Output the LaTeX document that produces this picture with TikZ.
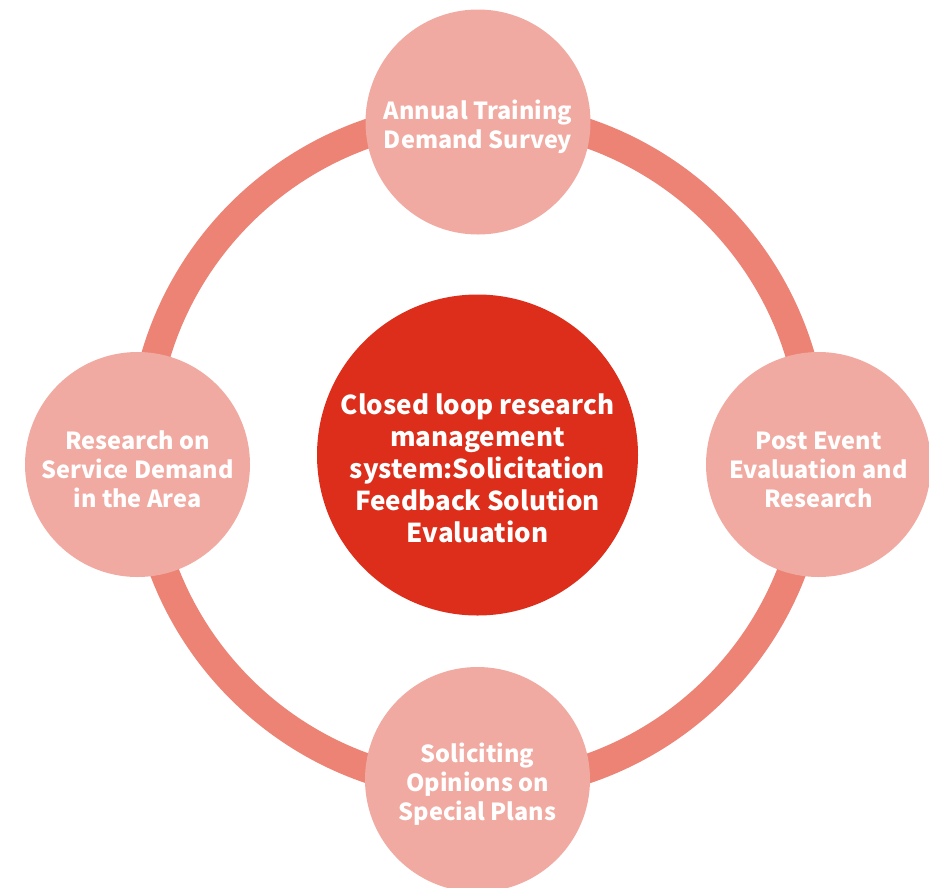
\documentclass[tikz,border=0pt]{standalone}
\usepackage{fontspec}
\setmainfont{Noto Sans CJK SC}
\usepackage{tikz}
\usetikzlibrary{positioning, calc}
\definecolor{ringred}{HTML}{EC8375}
\definecolor{stagepink}{HTML}{F1AAA1}
\definecolor{corered}{HTML}{DC2E1A}

\begin{document}
\begin{tikzpicture}[
    x=1pt, y=-1pt,
    stage/.style={circle, fill=stagepink, minimum size=225pt, inner sep=0pt},
    core/.style={circle, fill=corered, minimum size=321pt, inner sep=0pt},
    stagetext/.style={align=center, text=white, yshift=-5pt, font=\fontsize{23.5}{29}\selectfont\bfseries},
    coretext/.style={align=center, text=white, yshift=-13pt, font=\fontsize{26}{32}\selectfont\bfseries},
    ring/.style={draw=ringred, line width=29pt}
]
    \useasboundingbox (0,0) rectangle (929,887);

    \coordinate (loop) at (478,451);
    \draw[ring] (loop) circle (336);

    \node[core] (system) at (477.5,455) {};
    \node[coretext] (systemtext) at (system) {Closed loop research\\management\\system:Solicitation\\Feedback Solution\\Evaluation};

    \node[stage] (annual) at (478,122) {};
    \node[stage] (posteval) at (818.5,464.5) {};
    \node[stage] (opinions) at (477.5,779.5) {};
    \node[stage] (areademand) at (137.5,464.5) {};

    \node[stagetext] (annualtext) at (annual) {Annual Training\\Demand Survey};
    \node[stagetext] (postevaltext) at (posteval) {Post Event\\Evaluation and\\Research};
    \node[stagetext] (opinionstext) at (opinions) {Soliciting\\Opinions on\\Special Plans};
    \node[stagetext] (areademandtext) at (areademand) {Research on\\Service Demand\\in the Area};

\end{tikzpicture}
\end{document}
